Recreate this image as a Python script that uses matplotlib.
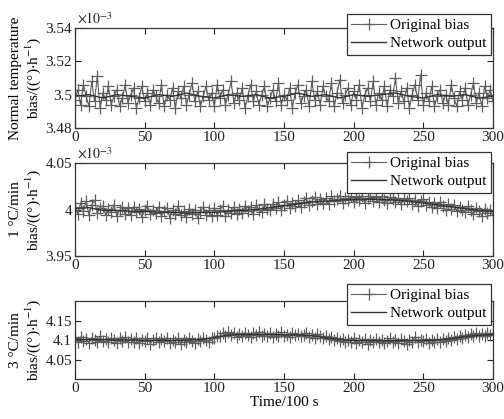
import matplotlib
matplotlib.use("Agg")
import matplotlib.pyplot as plt
import numpy as np

plt.rcParams['font.family'] = ['Liberation Serif', 'DejaVu Serif']
plt.rcParams['mathtext.fontset'] = 'stix'

# ---- data ----
t_orig = list(range(0, 301, 2))
t_net = list(range(0, 301, 10))

# panel 1: normal temperature (x1e-3)
orig_normal = [
    3.497, 3.503, 3.494, 3.506, 3.499, 3.493, 3.508, 3.496, 3.511, 3.492,
    3.501, 3.497, 3.505, 3.494, 3.499, 3.503, 3.493, 3.498, 3.506, 3.495,
    3.500, 3.504, 3.492, 3.498, 3.505, 3.496, 3.501, 3.494, 3.503, 3.499,
    3.495, 3.506, 3.493, 3.500, 3.497, 3.504, 3.492, 3.502, 3.498, 3.505,
    3.494, 3.500, 3.507, 3.496, 3.502, 3.493, 3.499, 3.505, 3.497, 3.501,
    3.493, 3.506, 3.498, 3.503, 3.494, 3.500, 3.508, 3.495, 3.501, 3.497,
    3.504, 3.492, 3.499, 3.506, 3.496, 3.502, 3.494, 3.500, 3.505, 3.493,
    3.498, 3.503, 3.496, 3.507, 3.494, 3.500, 3.497, 3.504, 3.492, 3.501,
    3.506, 3.495, 3.499, 3.503, 3.493, 3.508, 3.497, 3.502, 3.494, 3.505,
    3.499, 3.496, 3.507, 3.493, 3.501, 3.509, 3.495, 3.500, 3.504, 3.494,
    3.502, 3.497, 3.506, 3.492, 3.500, 3.504, 3.496, 3.508, 3.494, 3.501,
    3.497, 3.505, 3.493, 3.503, 3.499, 3.510, 3.495, 3.502, 3.496, 3.504,
    3.492, 3.500, 3.506, 3.497, 3.512, 3.494, 3.501, 3.496, 3.505, 3.493,
    3.499, 3.503, 3.495, 3.500, 3.494, 3.506, 3.498, 3.493, 3.502, 3.497,
    3.504, 3.494, 3.500, 3.507, 3.495, 3.501, 3.493, 3.505, 3.498, 3.503,
    3.496]
net_normal = [
    3.499, 3.500, 3.498, 3.500, 3.499, 3.498, 3.500, 3.499, 3.501, 3.499,
    3.498, 3.500, 3.499, 3.500, 3.498, 3.499, 3.501, 3.499, 3.500, 3.498,
    3.500, 3.499, 3.500, 3.501, 3.499, 3.498, 3.500, 3.499, 3.500, 3.498,
    3.499]

# panel 2: 1 C/min (x1e-3)
orig_1c = [
    4.003, 3.995, 4.007, 3.998, 4.009, 3.994, 4.005, 4.010, 3.996, 4.002,
    4.004, 3.994, 4.001, 3.997, 4.005, 3.993, 3.999, 4.003, 3.995, 4.002,
    3.994, 4.003, 3.997, 4.001, 3.992, 3.999, 4.004, 3.995, 4.000, 3.996,
    4.003, 3.993, 3.998, 4.002, 3.991, 3.999, 3.995, 4.004, 3.994, 3.998,
    3.992, 4.001, 3.995, 4.000, 3.991, 3.997, 4.003, 3.994, 3.999, 3.993,
    4.002, 3.994, 3.999, 4.004, 3.993, 4.000, 3.996, 4.003, 3.995, 4.001,
    3.996, 4.004, 3.998, 4.003, 3.995, 4.005, 4.000, 3.997, 4.006, 4.001,
    3.999, 4.006, 4.002, 4.008, 4.000, 4.005, 4.009, 4.002, 4.007, 4.004,
    4.010, 4.003, 4.008, 4.012, 4.005, 4.009, 4.013, 4.006, 4.011, 4.007,
    4.012, 4.006, 4.014, 4.009, 4.011, 4.015, 4.007, 4.012, 4.010, 4.014,
    4.008, 4.013, 4.010, 4.015, 4.007, 4.012, 4.014, 4.009, 4.013, 4.008,
    4.014, 4.010, 4.007, 4.013, 4.011, 4.008, 4.012, 4.006, 4.011, 4.009,
    4.012, 4.006, 4.010, 4.004, 4.009, 4.011, 4.005, 4.008, 4.003, 4.007,
    4.002, 4.008, 4.004, 3.999, 4.006, 4.001, 4.005, 3.998, 4.003, 4.000,
    3.997, 4.004, 3.999, 3.995, 4.002, 3.998, 3.993, 4.001, 3.996, 3.999,
    3.994]
net_1c = [
    4.001, 4.002, 3.999, 3.999, 3.998, 3.998, 3.997, 3.997, 3.996, 3.997,
    3.997, 3.998, 3.999, 4.000, 4.002, 4.004, 4.006, 4.008, 4.009, 4.010,
    4.011, 4.011, 4.011, 4.010, 4.009, 4.007, 4.005, 4.003, 4.001, 3.999,
    3.998]

# panel 3: 3 C/min
orig_3c = [
    4.104, 4.095, 4.108, 4.098, 4.103, 4.093, 4.106, 4.100, 4.096, 4.109,
    4.097, 4.103, 4.094, 4.105, 4.099, 4.092, 4.104, 4.098, 4.107, 4.095,
    4.102, 4.096, 4.106, 4.093, 4.101, 4.097, 4.104, 4.091, 4.099, 4.105,
    4.094, 4.102, 4.097, 4.106, 4.092, 4.100, 4.096, 4.104, 4.090, 4.101,
    4.095, 4.104, 4.098, 4.092, 4.103, 4.097, 4.106, 4.100, 4.095, 4.104,
    4.105, 4.111, 4.109, 4.118, 4.110, 4.120, 4.112, 4.117, 4.108, 4.116,
    4.110, 4.119, 4.112, 4.107, 4.117, 4.113, 4.121, 4.109, 4.115, 4.111,
    4.118, 4.108, 4.116, 4.111, 4.120, 4.110, 4.114, 4.107, 4.117, 4.112,
    4.116, 4.109, 4.114, 4.119, 4.108, 4.113, 4.106, 4.115, 4.110, 4.104,
    4.110, 4.102, 4.108, 4.099, 4.105, 4.097, 4.103, 4.094, 4.101, 4.096,
    4.104, 4.093, 4.100, 4.096, 4.103, 4.091, 4.099, 4.095, 4.102, 4.094,
    4.101, 4.092, 4.098, 4.104, 4.095, 4.100, 4.093, 4.102, 4.097, 4.090,
    4.100, 4.096, 4.108, 4.094, 4.101, 4.097, 4.103, 4.092, 4.099, 4.095,
    4.103, 4.096, 4.102, 4.098, 4.105, 4.101, 4.108, 4.103, 4.111, 4.105,
    4.112, 4.107, 4.115, 4.110, 4.118, 4.111, 4.116, 4.109, 4.119, 4.113,
    4.115]
net_3c = [
    4.101, 4.101, 4.101, 4.100, 4.100, 4.099, 4.099, 4.099, 4.100, 4.101,
    4.106, 4.113, 4.114, 4.114, 4.114, 4.113, 4.113, 4.111, 4.106, 4.101,
    4.099, 4.098, 4.098, 4.098, 4.099, 4.099, 4.100, 4.103, 4.109, 4.112,
    4.114]

x_ticks = [0, 50, 100, 150, 200, 250, 300]
ylabels = ["Normal temperature\nbias/((°)$\\cdot$h$^{-1}$)",
           "1 °C/min\nbias/((°)$\\cdot$h$^{-1}$)",
           "3 °C/min\nbias/((°)$\\cdot$h$^{-1}$)"]
ylims = [(3.48, 3.54), (3.95, 4.05), (4.0, 4.2)]
yticks = [[3.48, 3.50, 3.52, 3.54], [3.95, 4.00, 4.05], [4.05, 4.10, 4.15]]
ytick_labels = [["3.48", "3.5", "3.52", "3.54"], ["3.95", "4", "4.05"],
                ["4.05", "4.1", "4.15"]]
scale_text = [r"$\times10^{-3}$", r"$\times10^{-3}$", None]
legend_labels = ["Original bias", "Network output"]

# ---- layout (pixels) ----
W, H = 504, 419
fig = plt.figure(figsize=(W / 100, H / 100), dpi=100)
panels = [(28, 128), (163, 256), (301, 379)]
legend_tops = [14, 152, 284]
left_px, right_px = 75, 493

origs = [orig_normal, orig_1c, orig_3c]
nets = [net_normal, net_1c, net_3c]

fs = 11
for i in range(3):
    top, bot = panels[i]
    ax = fig.add_axes([left_px / W, 1 - bot / H, (right_px - left_px) / W, (bot - top) / H])
    ax.plot(t_orig, origs[i], color='#5e5e5e', lw=0.8, marker='+', ms=8.5, mew=0.9,
            label=legend_labels[0])
    ax.plot(t_net, nets[i], color='#333333', lw=1.0, label=legend_labels[1])
    ax.set_xlim(0, 300)
    ax.set_ylim(*ylims[i])
    ax.set_xticks(x_ticks)
    ax.set_xticklabels([str(v) for v in x_ticks], fontsize=fs)
    ax.set_yticks(yticks[i])
    ax.set_yticklabels(ytick_labels[i], fontsize=fs)
    ax.tick_params(direction='in', top=True, right=True, length=4, width=0.8,
                   pad=2, colors='#222222')
    for s in ax.spines.values():
        s.set_linewidth(0.9)
        s.set_color('#333333')
    ax.set_ylabel(ylabels[i], fontsize=fs, linespacing=1.1, labelpad=2)
    if scale_text[i]:
        ax.text(0.005, 1.01, scale_text[i], transform=ax.transAxes, fontsize=10,
                ha='left', va='bottom', color='#222222')
    leg = ax.legend(loc='upper right', bbox_to_anchor=(491 / W, 1 - legend_tops[i] / H),
                    bbox_transform=fig.transFigure, fontsize=fs, numpoints=1,
                    handlelength=2.3, handletextpad=0.25, labelspacing=0.28,
                    borderpad=0.3, borderaxespad=0, fancybox=False, framealpha=1,
                    edgecolor='#333333')
    leg.get_frame().set_linewidth(0.9)
    leg.set_zorder(10)
    if i == 2:
        ax.set_xlabel("Time/100 s", fontsize=fs, labelpad=1)

fig.savefig("out.png", dpi=100)
